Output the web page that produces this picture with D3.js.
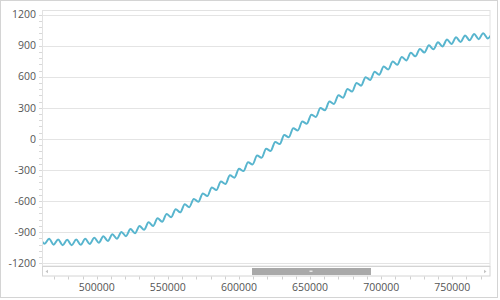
<!DOCTYPE html>
<html>
<head>
<meta charset="utf-8">
<script src="https://cdn.jsdelivr.net/npm/d3@7"></script>
<style>
  html, body { margin: 0; padding: 0; background: #fff; }
  svg { display: block; font-family: "Open Sans", "Noto Sans", sans-serif; }
  .tick-label { font-size: 10.5px; fill: #555; }
</style>
</head>
<body>
<div id="chart"></div>
<script>
// x positions of the samples (peaks / troughs of the wavy line)
const xValues = [
  460120, 463300, 466480, 469660, 472840, 476020, 479200, 482380, 485560, 488740,
  491920, 495100, 498280, 501460, 504640, 507820, 511000, 514180, 517360, 520540,
  523720, 526900, 530080, 533260, 536440, 539620, 542800, 545980, 549160, 552340,
  555520, 558700, 561880, 565060, 568240, 571420, 574600, 577780, 580960, 584140,
  587320, 590500, 593680, 596860, 600040, 603220, 606400, 609580, 612760, 615940,
  619120, 622300, 625480, 628660, 631840, 635020, 638200, 641380, 644560, 647740,
  650920, 654100, 657280, 660460, 663640, 666820, 670000, 673180, 676360, 679540,
  682720, 685900, 689080, 692260, 695440, 698620, 701800, 704980, 708160, 711340,
  714520, 717700, 720880, 724060, 727240, 730420, 733600, 736780, 739960, 743140,
  746320, 749500, 752680, 755860, 759040, 762220, 765400, 768580, 771760, 774940,
  778120
];

// y values
const yValues = [
  -952, -1012, -963, -1021, -970, -1026, -973, -1027, -971, -1023,
  -965, -1014, -955, -1002, -940, -985, -921, -964, -898, -939,
  -871, -910, -840, -877, -805, -840, -766, -800, -724, -756,
  -679, -709, -631, -659, -579, -607, -526, -552, -469, -494,
  -411, -435, -350, -374, -288, -311, -225, -247, -161, -182,
  -95, -116, -29, -50, 37, 16, 103, 82, 168, 147,
  234, 212, 298, 276, 361, 338, 422, 398, 482, 457,
  540, 514, 596, 569, 649, 620, 699, 670, 747, 715,
  791, 758, 832, 797, 869, 833, 903, 865, 933, 893,
  959, 917, 981, 936, 999, 952, 1012, 963, 1021, 970,
  1026
];

const xDomain = [462200, 776900];
const yDomain = [-1200, 1200];
const yTicks = [-1200, -900, -600, -300, 0, 300, 600, 900, 1200];
const xTicks = [500000, 550000, 600000, 650000, 700000, 750000];

const width = 500;
const height = 300;
const plotLeft = 43, plotRight = 490.5, plotTop = 10.5, plotBottom = 266.5;

const svg = d3.select("#chart").append("svg")
    .attr("width", width)
    .attr("height", height);

// cadre extérieur
svg.append("rect")
    .attr("x", 0.5).attr("y", 0.5)
    .attr("width", 497).attr("height", 297)
    .attr("fill", "#fff")
    .attr("stroke", "#d4d4d4");

const x = d3.scaleLinear().domain(xDomain).range([plotLeft, plotRight]);
const y = d3.scaleLinear().domain(yDomain).range([263.2, 14.6]);

// cadre de la zone de tracé
svg.append("rect")
    .attr("x", plotLeft - 0.5).attr("y", plotTop)
    .attr("width", plotRight - plotLeft).attr("height", 266 - plotTop)
    .attr("fill", "none")
    .attr("stroke", "#e2e2e2");

// lignes de grille horizontales
svg.append("g")
    .selectAll("line")
    .data(yTicks)
    .join("line")
    .attr("x1", plotLeft).attr("x2", plotRight - 0.5)
    .attr("y1", d => Math.round(y(d)) + 0.5)
    .attr("y2", d => Math.round(y(d)) + 0.5)
    .attr("stroke", "#e4e4e4");

// petites graduations en y
const yMinor = d3.range(-1200, 1201, 60);
svg.append("g")
    .selectAll("line")
    .data(yMinor)
    .join("line")
    .attr("x1", plotLeft - 4).attr("x2", plotLeft - 1)
    .attr("y1", d => Math.round(y(d)) + 0.5)
    .attr("y2", d => Math.round(y(d)) + 0.5)
    .attr("stroke", "#d8d8d8");

// étiquettes en y
svg.append("g")
    .selectAll("text")
    .data(yTicks)
    .join("text")
    .attr("class", "tick-label")
    .attr("x", 36)
    .attr("y", d => y(d))
    .attr("dy", "0.35em")
    .attr("text-anchor", "end")
    .text(d => d);

// courbe
svg.append("clipPath")
    .attr("id", "clip")
    .append("rect")
    .attr("x", plotLeft).attr("y", plotTop)
    .attr("width", plotRight - plotLeft - 0.5).attr("height", plotBottom - plotTop);

const points = xValues.map((d, i) => [d, yValues[i]]);

const line = d3.line()
    .x(d => x(d[0]))
    .y(d => y(d[1]))
    .curve(d3.curveMonotoneX);

svg.append("path")
    .datum(points)
    .attr("clip-path", "url(#clip)")
    .attr("fill", "none")
    .attr("stroke", "#58b5ce")
    .attr("stroke-width", 2)
    .attr("d", line);

// barre de défilement
const sb = svg.append("g");
sb.append("rect")
    .attr("x", plotLeft - 0.5).attr("y", 266.5)
    .attr("width", plotRight - plotLeft).attr("height", 9.5)
    .attr("fill", "#fff")
    .attr("stroke", "#d4d4d4");
sb.append("rect")
    .attr("x", 252).attr("y", 268)
    .attr("width", 119).attr("height", 7)
    .attr("fill", "#a9a9a9");
sb.append("rect")
    .attr("x", 309.5).attr("y", 270.5)
    .attr("width", 3).attr("height", 1.5)
    .attr("fill", "#e6e6e6");
sb.append("path")
    .attr("d", "M45.5,271.5 L48,269.8 L48,273.2 Z")
    .attr("fill", "#c4c4c4");
sb.append("path")
    .attr("d", "M486.5,271.5 L484,269.8 L484,273.2 Z")
    .attr("fill", "#c4c4c4");

// graduations en x sous la barre
const xMinor = d3.range(470000, 776901, 10000);
svg.append("g")
    .selectAll("line")
    .data(xMinor)
    .join("line")
    .attr("x1", d => Math.round(x(d)) + 0.5)
    .attr("x2", d => Math.round(x(d)) + 0.5)
    .attr("y1", 276.5).attr("y2", 279.5)
    .attr("stroke", "#cfcfcf");

svg.append("g")
    .selectAll("text")
    .data(xTicks)
    .join("text")
    .attr("class", "tick-label")
    .attr("x", d => x(d))
    .attr("y", 290.5)
    .attr("text-anchor", "middle")
    .text(d => d);
</script>
</body>
</html>
